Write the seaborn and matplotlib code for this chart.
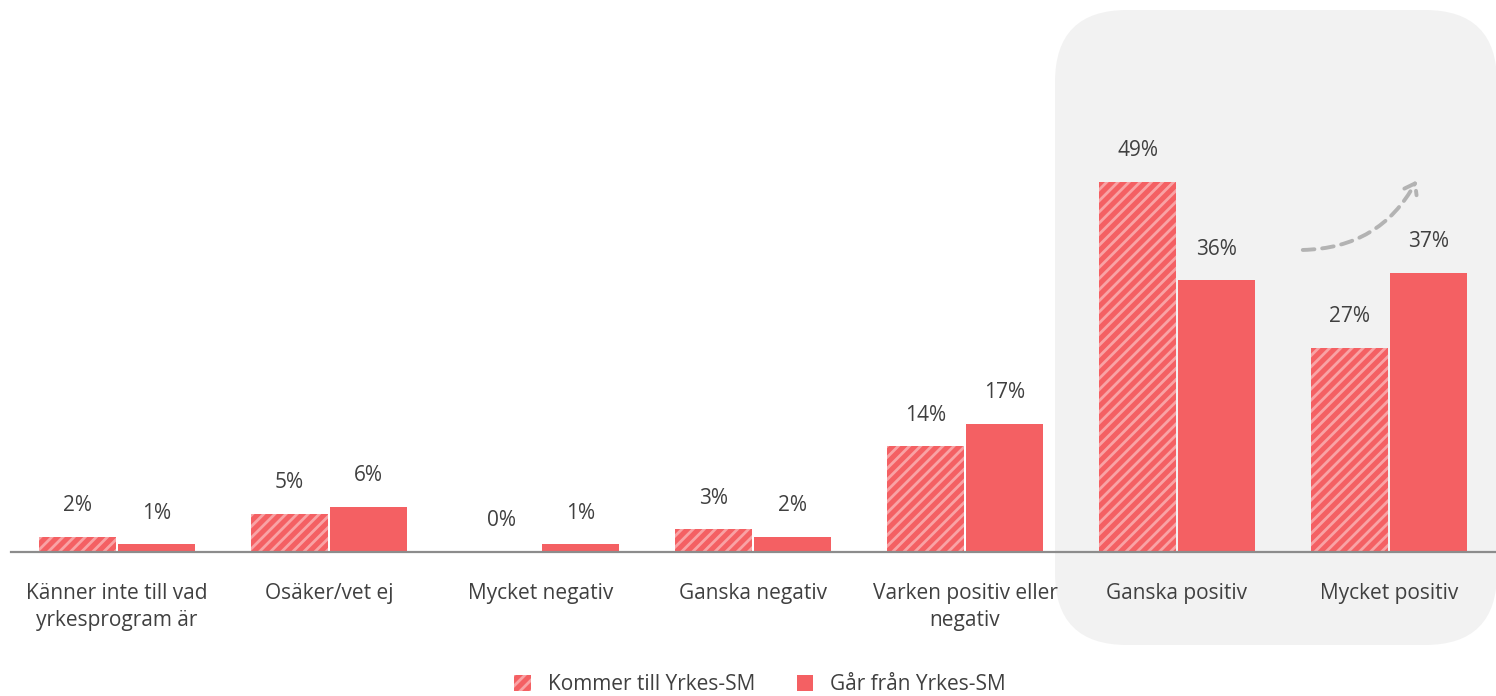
import numpy as np
import pandas as pd
import matplotlib
matplotlib.use('Agg')
import matplotlib.pyplot as plt
import seaborn as sns
from matplotlib.patches import Patch, FancyBboxPatch, FancyArrowPatch
from matplotlib.transforms import IdentityTransform

# Data
categories = ['Känner inte till vad\nyrkesprogram är', 'Osäker/vet ej', 'Mycket negativ',
              'Ganska negativ', 'Varken positiv eller\nnegativ', 'Ganska positiv', 'Mycket positiv']
series = ['Kommer till Yrkes-SM', 'Går från Yrkes-SM']
kommer = [2, 5, 0, 3, 14, 49, 27]
gar = [1, 6, 1, 2, 17, 36, 37]

df = pd.DataFrame({
    'kategori': categories * 2,
    'grupp': [series[0]] * len(categories) + [series[1]] * len(categories),
    'andel': kommer + gar,
})

# Style
sns.set_theme(style='white')
plt.rcParams['font.family'] = ['Open Sans', 'DejaVu Sans']
plt.rcParams['hatch.linewidth'] = 2.0
red = '#F46063'
stripe = '#F9A3A5'
text_col = '#404040'
fs = 15

fig = plt.figure(figsize=(14.96, 6.96), dpi=100)

# Grey highlight box behind the positive answers (pixel coordinates)
box = FancyBboxPatch((1055, 696 - 645), 442, 635,
                     boxstyle='round,pad=0,rounding_size=72',
                     transform=IdentityTransform(), facecolor='#F2F2F2',
                     edgecolor='none', zorder=0)
fig.patches.append(box)

ax = fig.add_axes([11 / 1496, 1 - 552 / 696, 1484 / 1496, 532 / 696])
ax.set_zorder(1)
ax.set_facecolor('none')

sns.barplot(data=df, x='kategori', y='andel', hue='grupp', hue_order=series,
            palette=[red, red], width=0.745, gap=0.035, legend=False, ax=ax,
            linewidth=0, saturation=1)

for bar in ax.containers[0]:
    bar.set_hatch('///')
    bar.set_edgecolor(stripe)
    bar.set_linewidth(0)

for cont in ax.containers:
    ax.bar_label(cont, labels=[f'{v:.0f}%' for v in cont.datavalues],
                 padding=15, fontsize=fs, color=text_col)

ax.set_xlim(-0.5, 6.5)
ax.set_ylim(0, 70.5)
ax.set_xlabel('')
ax.set_ylabel('')
ax.set_yticks([])
ax.tick_params(axis='x', length=0, pad=22, labelsize=fs, labelcolor=text_col)
for lbl in ax.get_xticklabels():
    lbl.set_linespacing(1.38)
for s in ['left', 'right', 'top']:
    ax.spines[s].set_visible(False)
ax.spines['bottom'].set_color('#8C8C8C')
ax.spines['bottom'].set_linewidth(1.6)

# Dashed curved arrow
arrow = FancyArrowPatch((1300 / 1496, 1 - 250 / 696), (1418 / 1496, 1 - 178 / 696),
                        transform=fig.transFigure, connectionstyle='arc3,rad=0.3',
                        arrowstyle='->,head_length=7,head_width=5', linestyle=(0, (3, 2)),
                        color='#B3B3B3', linewidth=2.8, clip_on=False)
ax.add_patch(arrow)

handles = [Patch(facecolor=red, edgecolor=stripe, hatch='///', linewidth=0),
           Patch(facecolor=red, edgecolor='none')]
fig.legend(handles, series, loc='center', bbox_to_anchor=(760 / 1496, 1 - 685 / 696),
           ncol=2, frameon=False, fontsize=fs, labelcolor=text_col,
           handlelength=0.8, handleheight=0.8, handletextpad=0.8, columnspacing=2.0)

fig.savefig('out.png', dpi=100)
